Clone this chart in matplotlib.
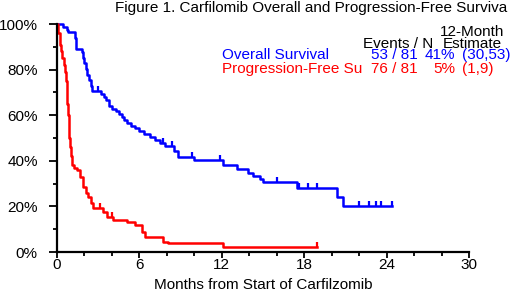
import numpy as np
import matplotlib.pyplot as plt
from matplotlib.ticker import MultipleLocator, FuncFormatter

plt.rcParams['font.family'] = ['Liberation Sans', 'DejaVu Sans']

# Kaplan-Meier step data (months, % surviving)
os_t = [0, 0.45, 0.7, 0.8, 1.3, 1.35, 1.4, 1.8, 1.9, 2.0, 2.1, 2.2, 2.3, 2.45, 2.55,
        3.2, 3.4, 3.6, 3.8, 4.0, 4.3, 4.5, 4.7, 4.9, 5.1, 5.4, 5.7, 6.0, 6.3, 6.8,
        7.1, 7.5, 7.9, 8.5, 8.8, 10.0, 12.1, 13.1, 13.9, 14.3, 14.8, 15.0, 17.5,
        20.4, 20.8, 24.4]
os_s = [100, 98.8, 97.5, 96.3, 93.8, 91.4, 88.9, 87.7, 85.2, 82.7, 80.2, 77.8, 75.3,
        72.8, 70.4, 69.1, 67.9, 66.6, 64.2, 62.9, 61.7, 60.4, 59.2, 57.9, 56.7, 55.4,
        54.2, 52.9, 51.7, 50.4, 49.2, 47.9, 46.6, 44.1, 41.6, 40.4, 38.2, 36.4, 34.6,
        33.3, 32.1, 30.8, 28.2, 24.3, 20.0, 20.0]
os_cens = [3.0, 7.7, 8.35, 9.8, 11.9, 16.0, 17.65, 18.3, 18.9, 22.0, 22.7, 23.2, 23.6, 24.4]

pfs_t = [0, 0.1, 0.2, 0.3, 0.4, 0.5, 0.6, 0.65, 0.7, 0.75, 0.8, 0.85, 0.9, 0.95, 1.0,
         1.07, 1.25, 1.43, 1.67, 1.9, 2.1, 2.28, 2.45, 2.65, 3.37, 3.62, 4.1, 5.1,
         5.7, 6.2, 6.4, 7.7, 8.1, 12.1, 18.9]
pfs_s = [100, 96, 91, 88, 85, 82, 79, 75, 70, 65, 60, 55, 50, 46, 42, 38, 37, 36, 33,
         28.6, 26, 24, 21.5, 19.3, 17.7, 15.5, 14, 13, 11.8, 8.9, 6.7, 4.5, 3.8, 2.3, 2.3]
pfs_cens = [3.1, 4.0, 18.9]

blue = '#0000ff'
red = '#ff0000'


def at(times, t, s):
    idx = np.searchsorted(t, times, side='right') - 1
    return np.array(s)[idx]


fig = plt.figure(figsize=(5.2, 2.91), dpi=100)
ax = fig.add_axes([57 / 520, 1 - 252 / 291, 412 / 520, 228 / 291])

tick = [(0, 0), (0, 1)]
ax.step(os_t, os_s, where='post', color=blue, lw=1.8, clip_on=False)
ax.plot(os_cens, at(os_cens, os_t, os_s), ls='none', marker=tick, ms=7,
        mec=blue, mew=1.6, clip_on=False)
ax.step(pfs_t, pfs_s, where='post', color=red, lw=1.8, clip_on=False)
ax.plot(pfs_cens, at(pfs_cens, pfs_t, pfs_s), ls='none', marker=tick, ms=7,
        mec=red, mew=1.6, clip_on=False)

ax.set_xlim(0, 30)
ax.set_ylim(0, 100)
for side in ['top', 'right']:
    ax.spines[side].set_visible(False)
for side in ['left', 'bottom']:
    ax.spines[side].set_linewidth(1.6)
ax.xaxis.set_major_locator(MultipleLocator(6))
ax.xaxis.set_minor_locator(MultipleLocator(2))
ax.yaxis.set_major_locator(MultipleLocator(20))
ax.yaxis.set_minor_locator(MultipleLocator(10))
ax.yaxis.set_major_formatter(FuncFormatter(lambda v, p: f'{v:.0f}%'))
ax.tick_params(which='both', width=1.3, labelsize=11)
ax.tick_params(axis='x', which='major', length=4.3, pad=0)
ax.tick_params(axis='x', which='minor', length=2.9)
ax.tick_params(axis='y', which='major', length=5.8, pad=8)
ax.tick_params(axis='y', which='minor', length=2.9)

fs = 11
fig.text(263 / 520, 1 - 289 / 291, 'Months from Start of Carfilzomib', fontsize=fs,
         ha='center', va='baseline')
fig.text(115 / 520, 1 - 12 / 291, 'Figure 1. Carfilomib Overall and Progression-Free Surviva',
         fontsize=fs, va='baseline')

# legend table
fig.text(472 / 520, 1 - 36.5 / 291, '12-Month', fontsize=fs, ha='center', va='baseline')
fig.text(433 / 520, 1 - 48 / 291, 'Events / N', fontsize=fs, ha='right', va='baseline')
fig.text(472 / 520, 1 - 48 / 291, 'Estimate', fontsize=fs, ha='center', va='baseline')

rows = [('Overall Survival', '53 / 81', '41%', '(30,53)', blue, 59.5),
        ('Progression-Free Su', '76 / 81', '5%', '(1,9)', red, 73)]
for name, ev, est, ci, c, yb in rows:
    y = 1 - yb / 291
    fig.text(222 / 520, y, name, fontsize=fs, color=c, va='baseline')
    fig.text(418 / 520, y, ev, fontsize=fs, color=c, ha='right', va='baseline')
    fig.text(455 / 520, y, est, fontsize=fs, color=c, ha='right', va='baseline')
    fig.text(462 / 520, y, ci, fontsize=fs, color=c, ha='left', va='baseline')

fig.savefig('out.png', dpi=100)
